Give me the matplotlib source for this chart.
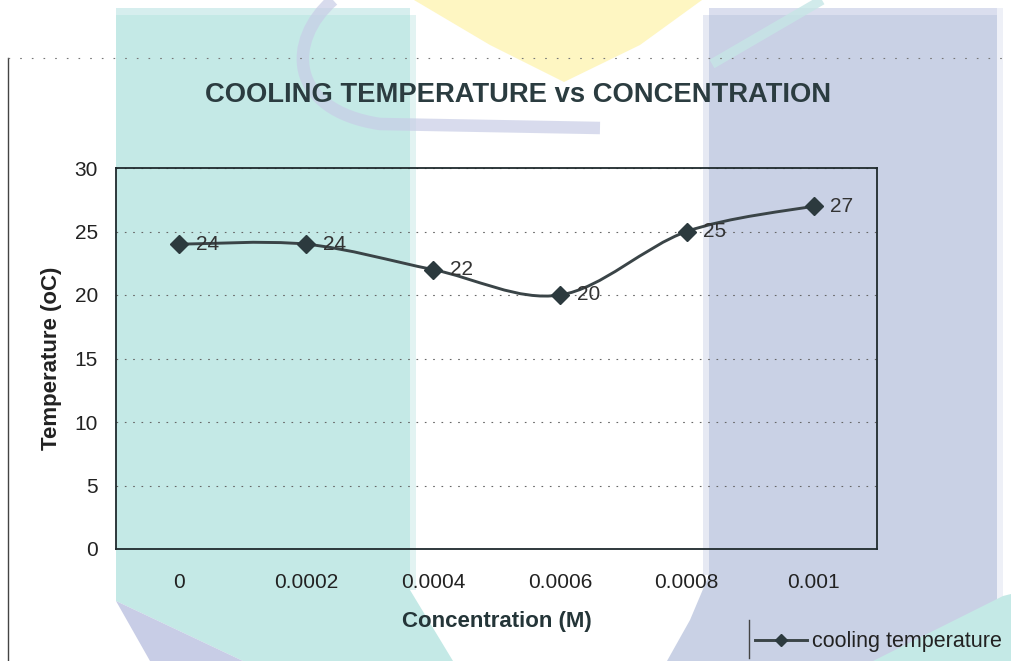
import matplotlib.pyplot as plt
import numpy as np
from matplotlib.path import Path
from matplotlib.patches import PathPatch, Polygon
from matplotlib.lines import Line2D

plt.rcParams['font.family'] = ['Liberation Sans', 'DejaVu Sans']

# data
conc_labels = ["0", "0.0002", "0.0004", "0.0006", "0.0008", "0.001"]
temps = [24, 24, 22, 20, 25, 27]
y_ticks = [0, 5, 10, 15, 20, 25, 30]

W, H = 1011, 661
fig = plt.figure(figsize=(W / 100, H / 100), dpi=100)
fig.patch.set_facecolor("white")

# scanned page background (watermark bands), drawn in pixel coords
bg = fig.add_axes([0, 0, 1, 1], zorder=0)
bg.set_xlim(0, W)
bg.set_ylim(H, 0)
bg.axis("off")

teal = "#c4e9e6"
purple = "#c9d1e5"
lav = "#c8cde6"
yellow = "#fef6c2"

bg.add_patch(Polygon([(116, 15), (410, 15), (410, 590), (453, 661), (243, 661), (116, 601)],
                     closed=True, fc=teal, ec="none"))
bg.add_patch(Polygon([(116, 8), (410, 8), (410, 15), (116, 15)], fc="#d6eeee", ec="none"))
bg.add_patch(Polygon([(410, 15), (416, 15), (416, 590), (410, 590)], fc="#e2f3f2", ec="none"))
bg.add_patch(Polygon([(116, 601), (243, 661), (150, 661)], fc=lav, ec="none"))

bg.add_patch(Polygon([(709, 15), (997, 15), (997, 661), (667, 661), (690, 620), (709, 575)],
                     closed=True, fc=purple, ec="none"))
bg.add_patch(Polygon([(709, 8), (997, 8), (997, 15), (709, 15)], fc="#dadeee", ec="none"))
bg.add_patch(Polygon([(703, 15), (709, 15), (709, 575), (703, 575)], fc="#e6e9f3", ec="none"))
bg.add_patch(Polygon([(997, 8), (1003, 8), (1003, 600), (997, 600)], fc="#eef0f7", ec="none"))
bg.add_patch(Polygon([(1003, 596), (1011, 594), (1011, 661), (873, 661)], fc=teal, ec="none"))

bg.add_patch(Polygon([(414, 0), (702, 0), (640, 45), (564, 82), (490, 45)], fc=yellow, ec="none"))

# logo ring pieces
arc = Path([(333, 0), (287, 40), (287, 110), (380, 124), (600, 128)],
           [Path.MOVETO, Path.CURVE4, Path.CURVE4, Path.CURVE4, Path.LINETO])
bg.add_patch(PathPatch(arc, fill=False, ec=lav, lw=9, alpha=0.7, capstyle="butt"))
bg.plot([822, 712], [0, 64], color="#c6e6e6", lw=7, alpha=0.8, solid_capstyle="butt")

# scanned chart-area frame
bg.plot([8, 8], [58, H], color="#444444", lw=1)
bg.plot([8, W], [58, 58], color="#777777", lw=0.8, dashes=(1.5, 9))

# main chart
ax = fig.add_axes([116 / W, 1 - 549 / H, 761 / W, 381 / H], zorder=1)
ax.set_facecolor("none")

xs = np.arange(len(temps))
ys = np.array(temps, dtype=float)
n = len(xs)

# smoothed line (Excel-style Bezier through the points)
verts = [(xs[0], ys[0])]
codes = [Path.MOVETO]
for i in range(n - 1):
    a = i - 1 if i > 0 else i
    b = i + 2 if i + 2 < n else i + 1
    c1 = (xs[i] + (xs[i + 1] - xs[a]) / 6, ys[i] + (ys[i + 1] - ys[a]) / 6)
    c2 = (xs[i + 1] - (xs[b] - xs[i]) / 6, ys[i + 1] - (ys[b] - ys[i]) / 6)
    verts += [c1, c2, (xs[i + 1], ys[i + 1])]
    codes += [Path.CURVE4] * 3
line_col = "#3a4447"
mk_col = "#2c3a3e"
ax.add_patch(PathPatch(Path(verts, codes), fill=False, ec=line_col, lw=2.1, zorder=3))
ax.plot(xs, ys, ls="none", marker="D", ms=8.8, color=mk_col, zorder=4)

for x, y in zip(xs, temps):
    ax.annotate(str(y), (x, y), xytext=(12, 0), textcoords="offset points",
                ha="left", va="center", fontsize=15, color="#333333", zorder=5)

ax.set_xlim(-0.5, n - 0.5)
ax.set_ylim(0, 30)
ax.set_xticks(xs, conc_labels)
ax.set_yticks(y_ticks)
ax.tick_params(axis="both", length=0, labelsize=15, colors="#222222")
ax.tick_params(axis="y", pad=13)
ax.tick_params(axis="x", pad=17)
ax.yaxis.grid(True, color="#666666", lw=0.8, ls=(0, (1.5, 6)))
for s in ax.spines.values():
    s.set_color("#1f2a2d")
    s.set_linewidth(1.3)

ax.set_xlabel("Concentration (M)", fontsize=16, fontweight="bold", color="#243538")
ax.xaxis.set_label_coords(0.5, -(611 - 549) / 381)
ax.set_ylabel("Temperature (oC)", fontsize=16, fontweight="bold", color="#222222")
ax.yaxis.set_label_coords(-(116 - 62) / 761, 0.5)

fig.text(518 / W, 1 - 95 / H, "COOLING TEMPERATURE vs CONCENTRATION", ha="center", va="center",
         fontsize=19.7, fontweight="bold", color="#2b3c40")

# legend
handle = Line2D([], [], color=line_col, lw=2.1, marker="D", ms=6, mfc=mk_col, mec=mk_col)
fig.legend([handle], ["cooling temperature"], loc="center left",
           bbox_to_anchor=(755 / W, 1 - 642 / H), frameon=False, fontsize=15.5,
           handlelength=2.4, handletextpad=0.25, borderpad=0, borderaxespad=0,
           labelcolor="#222222")
bg.plot([749, 749], [620, 658], color="#444444", lw=1)

fig.savefig("out.png", dpi=100)
